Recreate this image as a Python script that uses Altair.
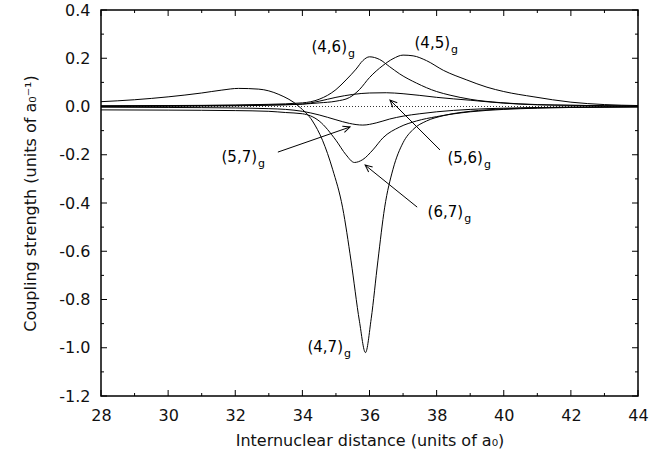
import altair as alt
import pandas as pd
import numpy as np

# ---------------- data ----------------
x47 = [28.0, 29.0, 30.0, 31.0, 31.6, 32.1, 32.7, 33.3, 33.9, 34.3, 34.6, 34.9, 35.2, 35.45,
       35.7, 35.88, 36.05, 36.25, 36.45, 36.7, 37.0, 37.3, 37.7, 38.2, 39.0, 40.0, 41.0, 42.0, 44.0]
y47 = [0.020, 0.028, 0.040, 0.056, 0.068, 0.075, 0.072, 0.050, 0.000, -0.060, -0.140, -0.260,
       -0.420, -0.640, -0.890, -1.020, -0.880, -0.640, -0.420, -0.260, -0.150, -0.095, -0.060,
       -0.038, -0.020, -0.010, -0.005, -0.003, -0.001]

x46 = [28.0, 30.0, 32.0, 33.0, 34.0, 34.5, 35.0, 35.3, 35.6, 35.8, 36.0, 36.3, 36.6, 36.9,
       37.4, 38.0, 38.4, 39.0, 39.9, 41.0, 42.0, 44.0]
y46 = [0.003, 0.004, 0.006, 0.009, 0.015, 0.030, 0.070, 0.110, 0.155, 0.190, 0.206, 0.195,
       0.165, 0.135, 0.097, 0.062, 0.047, 0.030, 0.016, 0.008, 0.005, 0.002]

x45 = [28.0, 30.0, 32.0, 33.0, 34.0, 34.5, 35.0, 35.4, 35.7, 36.0, 36.4, 36.7, 37.0, 37.3,
       37.7, 38.2, 38.9, 39.5, 40.0, 40.9, 42.0, 43.0, 44.0]
y45 = [0.002, 0.003, 0.005, 0.007, 0.010, 0.015, 0.022, 0.037, 0.070, 0.120, 0.170, 0.198,
       0.213, 0.210, 0.190, 0.150, 0.110, 0.080, 0.062, 0.040, 0.018, 0.008, 0.004]

x56 = [28.0, 30.0, 32.0, 33.0, 34.0, 34.5, 35.0, 35.5, 36.0, 36.5, 37.0, 37.5, 38.0, 39.0,
       40.0, 41.0, 42.0, 43.0, 44.0]
y56 = [0.000, 0.001, 0.003, 0.005, 0.010, 0.022, 0.038, 0.050, 0.056, 0.057, 0.053, 0.046,
       0.038, 0.026, 0.014, 0.007, 0.005, 0.003, 0.002]

x57 = [28.0, 30.0, 32.0, 33.0, 33.5, 34.0, 34.5, 35.0, 35.4, 35.8, 36.2, 36.6, 37.0, 37.5,
       38.0, 39.0, 40.0, 42.0, 44.0]
y57 = [-0.003, -0.004, -0.006, -0.009, -0.012, -0.020, -0.035, -0.055, -0.070, -0.077, -0.068,
       -0.052, -0.040, -0.030, -0.022, -0.012, -0.007, -0.003, -0.001]

x67 = [28.0, 30.0, 32.0, 33.0, 33.5, 34.0, 34.5, 35.0, 35.3, 35.55, 35.8, 36.1, 36.4, 36.9,
       37.4, 38.0, 39.0, 40.0, 41.0, 42.0, 44.0]
y67 = [-0.014, -0.015, -0.017, -0.020, -0.025, -0.030, -0.060, -0.140, -0.200, -0.232, -0.220,
       -0.180, -0.130, -0.085, -0.060, -0.042, -0.022, -0.012, -0.007, -0.004, -0.002]

series = [("(4,7)", x47, y47), ("(4,6)", x46, y46), ("(4,5)", x45, y45),
          ("(5,6)", x56, y56), ("(5,7)", x57, y57), ("(6,7)", x67, y67)]

# curve labels: main text, subscript, anchor (end of main text) in data units
lab_text = ["(4,6)", "(4,5)", "(5,7)", "(5,6)", "(6,7)", "(4,7)"]
lab_sub = ["g", "g", "g", "g", "g", "g"]
lab_x = [35.33, 38.40, 32.65, 39.38, 38.79, 35.21]
lab_y = [0.247, 0.263, -0.209, -0.213, -0.437, -0.995]

# arrows: tail -> head, data units
arr_tx = [33.27, 38.10, 37.42]
arr_ty = [-0.189, -0.180, -0.417]
arr_hx = [35.42, 36.61, 35.87]
arr_hy = [-0.085, 0.027, -0.243]

x_major = [28, 30, 32, 34, 36, 38, 40, 42, 44]
x_minor = [29, 31, 33, 35, 37, 39, 41, 43]
y_major = [0.4, 0.2, 0.0, -0.2, -0.4, -0.6, -0.8, -1.0, -1.2]
y_minor = [0.3, 0.1, -0.1, -0.3, -0.5, -0.7, -0.9, -1.1]

# ---------------- layout ----------------
W, H = 537, 386
FONT = "DejaVu Sans"

rows = []
for name, xs_, ys_ in series:
    for a, b in zip(xs_, ys_):
        rows.append({"series": name, "x": a, "y": b})
df = pd.DataFrame(rows)

xs = alt.Scale(domain=[28, 44], nice=False, zero=False)
ys = alt.Scale(domain=[-1.2, 0.4], nice=False, zero=False)

base = alt.Chart(df)

y_label_expr = ("datum.value < -0.0001 ? '-' + format(-datum.value, '.1f') : "
                "format(abs(datum.value), '.1f')")

lines = base.mark_line(interpolate="monotone", color="black", strokeWidth=1).encode(
    x=alt.X("x:Q", scale=xs,
            axis=alt.Axis(values=x_major, ticks=False, domain=False, grid=False,
                          labelPadding=11, labelFlush=False, labelOverlap=False,
                          title="Internuclear distance (units of a₀)", titlePadding=9)),
    y=alt.Y("y:Q", scale=ys,
            axis=alt.Axis(values=y_major, ticks=False, domain=False, grid=False,
                          labelPadding=11, labelFlush=False, labelOverlap=False,
                          labelExpr=y_label_expr,
                          title="Coupling strength (units of a₀⁻¹)", titlePadding=20)),
    detail="series:N",
)

zero = alt.Chart(pd.DataFrame({"y": [0.0]})).mark_rule(
    color="black", strokeWidth=0.8, strokeDash=[1, 2]).encode(y=alt.Y("y:Q", scale=ys))


def xticks(vals, length, top):
    d = pd.DataFrame({"v": vals})
    if top:
        y0, y1 = 0, length
    else:
        y0, y1 = H, H - length
    return alt.Chart(d).mark_rule(color="black", strokeWidth=1).encode(
        x=alt.X("v:Q", scale=xs), y=alt.value(y0), y2=alt.value(y1))


def yticks(vals, length, right):
    d = pd.DataFrame({"v": vals})
    if right:
        x0, x1 = W, W - length
    else:
        x0, x1 = 0, length
    return alt.Chart(d).mark_rule(color="black", strokeWidth=1).encode(
        y=alt.Y("v:Q", scale=ys), x=alt.value(x0), x2=alt.value(x1))


ticks = [xticks(x_major, 6, False), xticks(x_minor, 3, False),
         xticks(x_major, 6, True), xticks(x_minor, 3, True),
         yticks(y_major, 6, False), yticks(y_minor, 3, False),
         yticks(y_major, 6, True), yticks(y_minor, 3, True)]

# arrows
sx, sy = W / 16.0, H / 1.6
ang = []
for tx, ty, hx, hy in zip(arr_tx, arr_ty, arr_hx, arr_hy):
    dx = (hx - tx) * sx
    dy = -(hy - ty) * sy
    ang.append(float(np.degrees(np.arctan2(dx, -dy)) % 360))
arr_df = pd.DataFrame({"tx": arr_tx, "ty": arr_ty, "hx": arr_hx, "hy": arr_hy, "ang": ang})

arrow_lines = alt.Chart(arr_df).mark_rule(color="black", strokeWidth=1).encode(
    x=alt.X("tx:Q", scale=xs), y=alt.Y("ty:Q", scale=ys), x2="hx:Q", y2="hy:Q")
arrow_heads = alt.Chart(arr_df).mark_point(
    shape="M -0.45 1 L 0 0 L 0.45 1", filled=False, stroke="black", strokeWidth=1,
    size=200, opacity=1).encode(
    x=alt.X("hx:Q", scale=xs), y=alt.Y("hy:Q", scale=ys),
    angle=alt.Angle("ang:Q", scale=None))

lab_df = pd.DataFrame({"t": lab_text, "s": lab_sub, "x": lab_x, "y": lab_y})
lab_main = alt.Chart(lab_df).mark_text(
    font=FONT, fontSize=15, align="right", baseline="middle", color="black").encode(
    x=alt.X("x:Q", scale=xs), y=alt.Y("y:Q", scale=ys), text="t:N")
lab_subs = alt.Chart(lab_df).mark_text(
    font=FONT, fontSize=11, align="left", baseline="middle", color="black", dx=1, dy=7).encode(
    x=alt.X("x:Q", scale=xs), y=alt.Y("y:Q", scale=ys), text="s:N")

chart = alt.layer(zero, lines, *ticks, arrow_lines, arrow_heads, lab_main, lab_subs).properties(
    width=W, height=H,
    padding={"left": 101, "top": 10, "right": 26, "bottom": 61},
    autosize=alt.AutoSizeParams(type="none"),
    background="white",
).configure_view(stroke="black", strokeWidth=1.5).configure_axis(
    labelFont=FONT, labelFontSize=16, labelColor="#111111",
    titleFont=FONT, titleFontSize=16, titleColor="#111111", titleFontWeight="normal",
)

chart.save("out.html", embed_options={"renderer": "svg", "actions": False})
